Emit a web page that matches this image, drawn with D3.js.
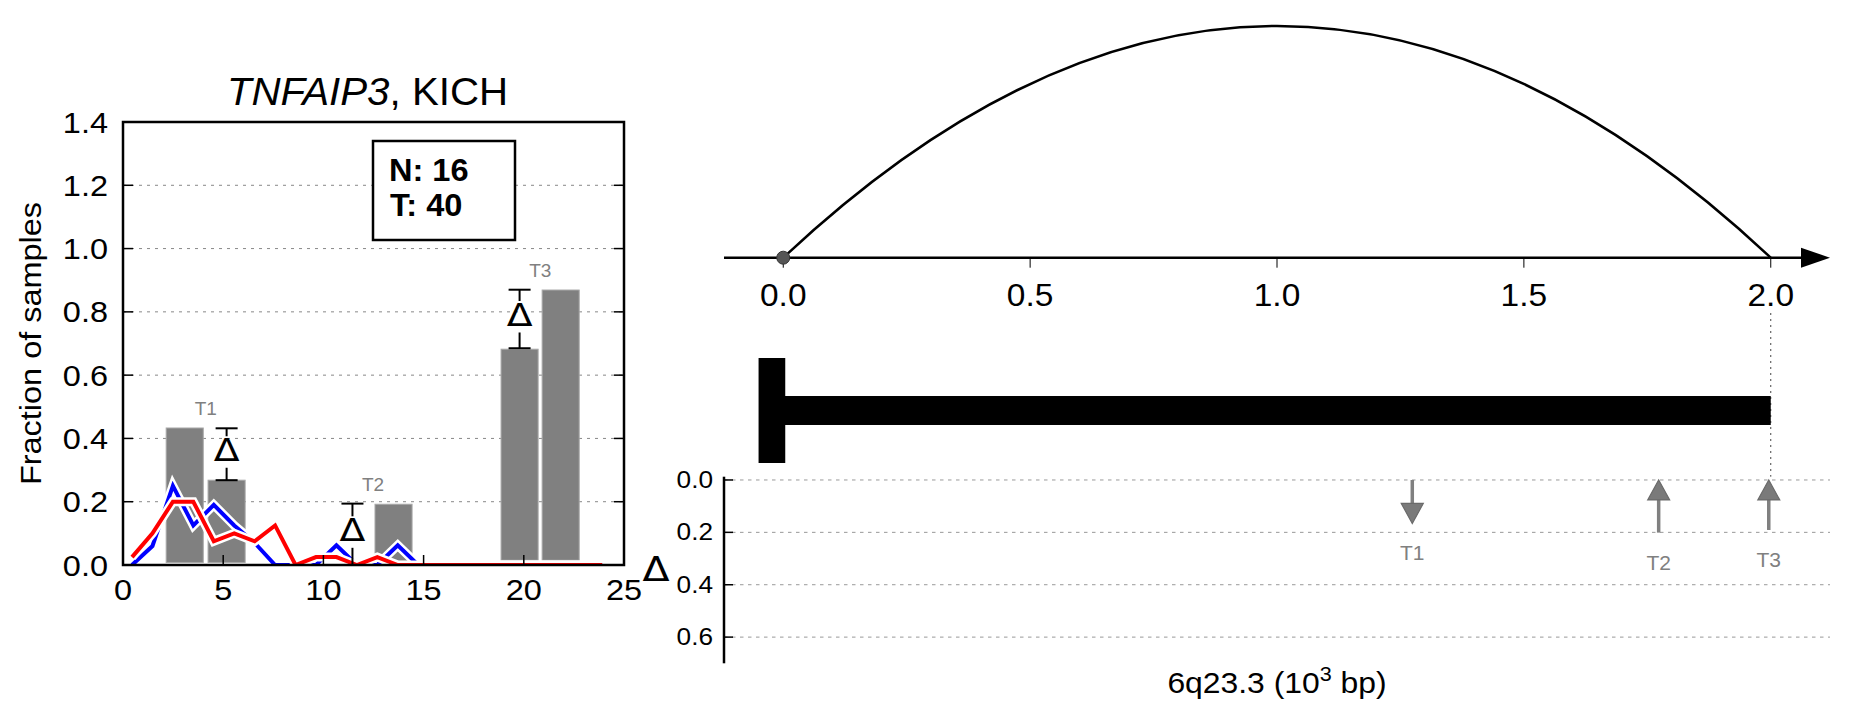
<!DOCTYPE html>
<html><head><meta charset="utf-8">
<script src="https://cdn.jsdelivr.net/npm/d3@7"></script>
<style>body{margin:0;background:#fff} text{font-family:"Liberation Sans",Arial,sans-serif}</style>
</head><body><svg id="c" width="1851" height="718"></svg>
<script>
// ---------- data: left panel ----------
const xTicksLeft = [0, 5, 10, 15, 20, 25];
const yTicksLeft = [0.0, 0.2, 0.4, 0.6, 0.8, 1.0, 1.2, 1.4];
const lineX = [0.45, 1.47, 2.49, 3.51, 4.53, 5.55, 6.57, 7.59, 8.61, 9.63, 10.65, 11.67, 12.69, 13.71, 14.73, 15.75, 16.77, 17.79, 18.81, 19.83, 20.85, 21.87, 22.89, 23.91];
const blueVals = [0, 0.06, 0.25, 0.125, 0.19, 0.125, 0.07, 0, 0, 0, 0.0625, 0, 0, 0.0625, 0, 0, 0, 0, 0, 0, 0, 0, 0, 0];
const redVals = [0.025, 0.1, 0.2, 0.2, 0.075, 0.1, 0.075, 0.125, 0, 0.025, 0.025, 0, 0.025, 0, 0, 0, 0, 0, 0, 0, 0, 0, 0, 0];
const barX = [3.08, 5.17, 11.45, 13.5, 19.79, 21.84];
const barVals = [0.433, 0.268, 0.0, 0.192, 0.682, 0.869];
const barBase = [0.008, 0.008, 0.012, 0.012, 0.015, 0.015];
const barWidth = 1.85;
const groupLabels = ["T1", "T2", "T3"];
const groupLabelX = [4.13, 12.48, 20.82];
const groupTop = [0.433, 0.192, 0.869];
const deltaX = [5.17, 11.45, 19.79];
const deltaLow = [0.268, 0.0, 0.685];
const deltaHigh = [0.432, 0.194, 0.870];
const nCount = 16, tCount = 40;
const geneName = "TNFAIP3", cancerName = "KICH";
// ---------- data: right panel ----------
const topTicks = [0.0, 0.5, 1.0, 1.5, 2.0];
const arcs = [[0.0, 2.0]];
const geneStart = 0.0, geneEnd = 2.0, tssWidth = 0.05;
const deltaTicks = [0.0, 0.2, 0.4, 0.6];
const arrowPos = [1.274, 1.773, 1.996];
const arrowFrom = [0.0, 0.201, 0.191];
const arrowTo = [0.166, 0.0, 0.0];
const arrowLabels = ["T1", "T2", "T3"];
const regionLabel = "6q23.3";

const svg = d3.select("#c");
function txt(parent, x, y, s, o) {
  o = o || {};
  const g = parent.append("g").attr("transform", `translate(${x},${y}) rotate(${o.rotate || 0}) scale(${o.sx || 1},1)`);
  const t = g.append("text").attr("x", 0).attr("y", 0)
    .attr("text-anchor", o.anchor || "middle")
    .attr("font-size", o.size || 20)
    .attr("fill", o.fill || "#000");
  if (o.family) t.style("font-family", o.family);
  if (o.weight) t.attr("font-weight", o.weight);
  if (o.style) t.attr("font-style", o.style);
  if (s !== null) t.text(s);
  return t;
}

// ================= LEFT PANEL =================
const x = d3.scaleLinear([0, 25], [123, 624]);
const y = d3.scaleLinear([0, 1.4], [565, 122]);
const L = svg.append("g");
svg.append("defs").append("clipPath").attr("id", "clipL").append("rect")
  .attr("x", x(0)).attr("y", y(1.4)).attr("width", x(25) - x(0)).attr("height", y(0) - y(1.4));

// grid
L.append("g").selectAll("line").data(yTicksLeft.slice(1, -1)).join("line")
  .attr("x1", x(0)).attr("x2", x(25)).attr("y1", d => y(d)).attr("y2", d => y(d))
  .attr("stroke", "#888").attr("stroke-width", 1).attr("stroke-dasharray", "3,5");

// bars
L.append("g").selectAll("rect").data(barX.map((d, i) => ({x: d, v: barVals[i], b: barBase[i]})).filter(d => d.v > d.b)).join("rect")
  .attr("x", d => x(d.x - barWidth / 2)).attr("width", d => x(barWidth) - x(0))
  .attr("y", d => y(d.v)).attr("height", d => y(d.b) - y(d.v))
  .attr("fill", "#808080").attr("stroke", "#a8a8a8").attr("stroke-width", 1);

// lines
const lg = L.append("g").attr("clip-path", "url(#clipL)");
const line = d3.line().x(d => x(d[0])).y(d => y(d[1]));
[[blueVals, "#0000ff"], [redVals, "#ff0000"]].forEach(([vals, col]) => {
  const pts = lineX.map((d, i) => [d, vals[i]]);
  lg.append("path").attr("d", line(pts)).attr("fill", "none").attr("stroke", "#fff").attr("stroke-width", 9).attr("stroke-linejoin", "miter");
  lg.append("path").attr("d", line(pts)).attr("fill", "none").attr("stroke", col).attr("stroke-width", 4).attr("stroke-linejoin", "miter");
});

// delta error bars + markers
deltaX.forEach((dx, i) => {
  const px = x(dx);
  const mid = y((deltaLow[i] + deltaHigh[i]) / 2);
  const yh = y(deltaHigh[i]), yl = y(deltaLow[i]);
  const eg = L.append("g").attr("stroke", "#000").attr("stroke-width", 2);
  eg.append("line").attr("x1", px).attr("x2", px).attr("y1", yh).attr("y2", mid - 18);
  eg.append("line").attr("x1", px).attr("x2", px).attr("y1", mid + 13.5).attr("y2", yl);
  eg.append("line").attr("x1", px - 11).attr("x2", px + 11).attr("y1", yh).attr("y2", yh);
  eg.append("line").attr("x1", px - 11).attr("x2", px + 11).attr("y1", yl).attr("y2", yl);
  txt(L, px, mid + 7, "Δ", {size: 31.5, sx: 1.2, family: "'DejaVu Sans', sans-serif"});
});

// group labels
groupLabels.forEach((s, i) => {
  txt(L, x(groupLabelX[i]), y(groupTop[i]) - 13, s, {size: 19, fill: "#808080"});
});

// N/T box
L.append("rect").attr("x", 373).attr("y", 141).attr("width", 142).attr("height", 99)
  .attr("fill", "#fff").attr("stroke", "#000").attr("stroke-width", 2.5);
txt(L, 389, 181, "N: " + nCount, {size: 31, sx: 1.05, anchor: "start", weight: "bold"});
txt(L, 390, 216, "T: " + tCount, {size: 31, sx: 1.05, anchor: "start", weight: "bold"});

// spines and ticks
L.append("rect").attr("x", x(0)).attr("y", y(1.4)).attr("width", x(25) - x(0)).attr("height", y(0) - y(1.4))
  .attr("fill", "none").attr("stroke", "#000").attr("stroke-width", 2.5);
const tk = L.append("g").attr("stroke", "#000").attr("stroke-width", 1.5);
yTicksLeft.forEach(d => {
  tk.append("line").attr("x1", x(0)).attr("x2", x(0) + 10).attr("y1", y(d)).attr("y2", y(d));
  tk.append("line").attr("x1", x(25)).attr("x2", x(25) - 10).attr("y1", y(d)).attr("y2", y(d));
  txt(L, 108, y(d) + 10.5, d.toFixed(1), {size: 29, sx: 1.12, anchor: "end"});
});
xTicksLeft.forEach(d => {
  tk.append("line").attr("x1", x(d)).attr("x2", x(d)).attr("y1", y(0)).attr("y2", y(0) - 10);
  txt(L, x(d), 600, String(d), {size: 29, sx: 1.12});
});
txt(L, 41, (y(0) + y(1.4)) / 2, "Fraction of samples", {size: 29, sx: 1.12, rotate: -90});
const tt = txt(L, (x(0) + x(25)) / 2 - 6, 105, null, {size: 38, sx: 1.06});
tt.append("tspan").attr("font-style", "italic").text(geneName);
tt.append("tspan").text(", " + cancerName);

// ================= RIGHT PANEL =================
const xr = d3.scaleLinear([-0.12, 2.12], [724, 1830]);
const ya = d3.scaleLinear([0, 1], [257.7, 26]);
const yg = d3.scaleLinear([0, 1], [358, 463]);
const yd = d3.scaleLinear([-0.0125, 0.7], [476.7, 663.3]);
const R = svg.append("g");

// arc(s): quadratic bezier, peak at ya(1)
arcs.forEach(([a, b]) => {
  const p = d3.path();
  p.moveTo(xr(a), ya(0));
  p.quadraticCurveTo(xr((a + b) / 2), ya(2), xr(b), ya(0));
  R.append("path").attr("d", p.toString()).attr("fill", "none").attr("stroke", "#000").attr("stroke-width", 2.5);
});
// top axis with arrow
R.append("line").attr("x1", xr(-0.12)).attr("x2", xr(2.12) - 28).attr("y1", ya(0)).attr("y2", ya(0)).attr("stroke", "#000").attr("stroke-width", 2.5);
R.append("path").attr("d", `M${xr(2.12) - 29},${ya(0) - 10}L${xr(2.12)},${ya(0)}L${xr(2.12) - 29},${ya(0) + 10}Z`).attr("fill", "#000");
topTicks.forEach(d => {
  R.append("line").attr("x1", xr(d)).attr("x2", xr(d)).attr("y1", ya(0)).attr("y2", ya(0) + 10).attr("stroke", "#000").attr("stroke-width", 1);
  txt(R, xr(d), 305.5, d.toFixed(1), {size: 31, sx: 1.08});
});
arcs.forEach(([a]) => {
  R.append("circle").attr("cx", xr(a)).attr("cy", ya(0)).attr("r", 6.5).attr("fill", "#555").attr("stroke", "#333").attr("stroke-width", 1);
});

// gene model
R.append("line").attr("x1", xr(geneEnd)).attr("x2", xr(geneEnd)).attr("y1", 313).attr("y2", yd(-0.0125))
  .attr("stroke", "#444").attr("stroke-width", 1).attr("stroke-dasharray", "2,4");
R.append("rect").attr("x", xr(geneStart)).attr("width", xr(geneEnd) - xr(geneStart))
  .attr("y", yg(0.362)).attr("height", yg(0.638) - yg(0.362)).attr("fill", "#000");
R.append("rect").attr("x", xr(geneStart - tssWidth)).attr("width", xr(geneStart) - xr(geneStart - tssWidth) + 2)
  .attr("y", yg(0)).attr("height", yg(1) - yg(0)).attr("fill", "#000");

// delta panel
deltaTicks.forEach(d => {
  R.append("line").attr("x1", xr(-0.12)).attr("x2", xr(2.12)).attr("y1", yd(d)).attr("y2", yd(d))
    .attr("stroke", "#999").attr("stroke-width", 1).attr("stroke-dasharray", "3.5,4.5");
  R.append("line").attr("x1", xr(-0.12)).attr("x2", xr(-0.12) + 9).attr("y1", yd(d)).attr("y2", yd(d)).attr("stroke", "#000").attr("stroke-width", 1.5);
  txt(R, 713, yd(d) + 8, d.toFixed(1), {size: 23, sx: 1.14, anchor: "end"});
});
R.append("line").attr("x1", xr(-0.12)).attr("x2", xr(-0.12)).attr("y1", yd(-0.0125)).attr("y2", yd(0.7)).attr("stroke", "#000").attr("stroke-width", 2.5);
txt(R, 656, 581, "Δ", {size: 33, sx: 1.2, family: "'DejaVu Sans', sans-serif"});

arrowPos.forEach((p, i) => {
  const px = xr(p), y0 = yd(arrowFrom[i]), y1 = yd(arrowTo[i]);
  const dir = Math.sign(y1 - y0);
  const hl = 20, hw = 11;
  const base = y1 - dir * hl;
  R.append("line").attr("x1", px).attr("x2", px).attr("y1", y0).attr("y2", base)
    .attr("stroke", "#808080").attr("stroke-width", 3.5);
  R.append("path").attr("d", `M${px - hw},${base}L${px},${y1}L${px + hw},${base}Z`)
    .attr("fill", "#7a7a7a").attr("stroke", "#6a6a6a").attr("stroke-width", 1.2);
  txt(R, px, Math.max(y0, y1) + 37, arrowLabels[i], {size: 21, fill: "#808080"});
});

const xl = txt(R, (xr(-0.12) + xr(2.12)) / 2, 693, null, {size: 29.5, sx: 1.08});
xl.append("tspan").text(regionLabel + " (10");
xl.append("tspan").attr("font-size", 20).attr("dy", -12).text("3");
xl.append("tspan").attr("dy", 12).text(" bp)");
</script></body></html>
